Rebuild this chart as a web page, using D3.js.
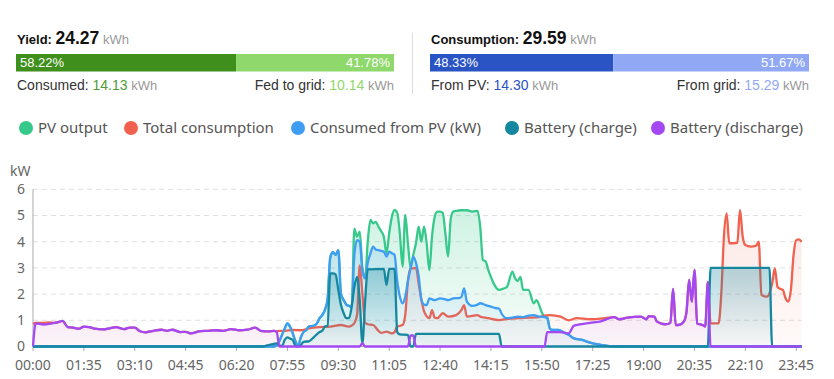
<!DOCTYPE html>
<html>
<head>
<meta charset="utf-8">
<script src="https://cdn.jsdelivr.net/npm/d3@7"></script>
<style>
  body { margin: 0; background: #fff; }
  svg { display: block; }
</style>
</head>
<body>
<div id="chart"></div>
<script>
// summary figures
const yieldTotal = "24.27", yieldConsumed = "14.13", yieldFed = "10.14";
const yieldShares = [58.22, 41.78];
const consTotal = "29.59", consFromPV = "14.30", consFromGrid = "15.29";
const consShares = [48.33, 51.67];

const seriesNames = ["PV output", "Total consumption", "Consumed from PV (kW)", "Battery (charge)", "Battery (discharge)"];
const seriesColors = ["#36c98b", "#f0614f", "#3f9ef3", "#15879f", "#a448f4"];
const yTicks = [0, 1, 2, 3, 4, 5, 6];

// 5-minute categories for the x axis
const times = [];
for (let m = 0; m < 1440; m += 5) {
  times.push(String(Math.floor(m / 60)).padStart(2, "0") + ":" + String(m % 60).padStart(2, "0"));
}

// values, [time, kW]
const pvOutput = [["00:00",0],["07:30",0],["07:35",0.05],["07:40",0.2],["07:45",0.45],["07:50",0.69],["07:55",0.88],["08:00",0.75],["08:05",0.5],["08:10",0.2],["08:15",0.02],["08:20",0.35],["08:25",0.55],["08:30",0.62],["08:35",0.76],["08:40",0.78],["08:45",0.8],["08:50",0.88],["08:55",1.08],["09:00",1.2],["09:05",1.4],["09:10",1.8],["09:15",3.4],["09:20",3.6],["09:25",3.5],["09:30",3.68],["09:35",2.0],["09:40",1.77],["09:45",1.6],["09:50",1.55],["09:55",1.52],
  ["10:00",4.5],["10:05",4.19],["10:10",4.38],["10:15",3.0],["10:20",2.6],["10:25",4.0],["10:30",4.83],["10:35",4.7],["10:40",4.76],["10:45",4.57],["10:50",4.4],["10:55",4.19],["11:00",3.56],["11:05",4.32],["11:10",4.95],["11:15",5.21],["11:20",5.1],["11:25",4.3],["11:30",3.05],["11:35",5.02],["11:40",3.94],["11:45",3.0],["11:50",3.5],["11:55",3.94],["12:00",4.57],["12:05",4.0],["12:10",4.57],["12:15",3.94],["12:20",2.92],["12:25",4.2],["12:30",4.95],["12:35",5.15],["12:40",5.15],["12:45",5.1],["12:50",4.3],["12:55",3.43],["13:00",4.89],["13:05",5.15],["13:10",5.18],["13:20",5.2],["13:30",5.2],["13:40",5.15],["13:50",5.18],["13:55",4.57],["14:00",3.3],["14:05",3.25],["14:10",2.92],["14:15",2.65],["14:20",2.41],["14:30",2.16],["14:40",2.22],["14:45",2.28],["14:55",2.86],["15:00",2.6],["15:05",2.5],["15:10",2.66],["15:15",2.16],["15:25",2.16],["15:35",1.65],["15:40",1.77],["15:45",1.58],["15:50",1.3],["15:55",1.14],
  ["16:00",1.1],["16:05",0.69],["16:10",0.63],["16:20",0.63],["16:30",0.55],["16:40",0.45],["16:50",0.31],["17:05",0.25],["17:20",0.15],["17:35",0.08],["17:50",0.03],["18:05",0],["23:55",0]];

const consumption = [["00:00",0.86],["00:05",0.9],["00:20",0.9],["00:30",0.92],["00:40",0.9],["00:50",0.95],["00:55",0.98],["01:05",0.74],["01:15",0.72],["01:25",0.68],["01:35",0.76],["01:45",0.74],["01:55",0.68],["02:10",0.65],["02:25",0.7],["02:35",0.74],["02:50",0.66],["03:00",0.72],["03:10",0.72],["03:20",0.58],["03:30",0.54],["03:45",0.6],["04:00",0.64],["04:10",0.6],["04:20",0.64],["04:35",0.55],["04:45",0.56],["04:55",0.5],["05:10",0.58],["05:25",0.6],["05:40",0.62],["05:55",0.6],["06:10",0.66],["06:25",0.62],["06:40",0.64],["06:55",0.72],["07:05",0.6],["07:20",0.58],["07:30",0.6],["07:35",0.58],["07:40",0.6],["07:50",0.6],["08:05",0.63],["08:20",0.62],["08:35",0.69],["08:55",0.74],["09:15",0.76],["09:35",0.82],["09:50",0.76],["09:55",0.8],
  ["10:00",0.9],["10:05",1.2],["10:10",3.1],["10:15",2.0],["10:20",0.9],["10:25",0.85],["10:35",0.82],["10:45",0.6],["10:50",0.52],["11:00",0.57],["11:10",0.5],["11:15",0.55],["11:20",0.76],["11:30",0.82],["11:35",1.2],["11:40",2.5],["11:45",2.98],["11:50",2.98],["11:55",3.0],["12:00",2.4],["12:05",1.8],["12:10",1.35],["12:15",1.15],["12:20",1.08],["12:25",1.39],["12:30",1.1],["12:35",1.08],["12:45",1.27],["12:55",1.14],["13:10",1.2],["13:20",1.4],["13:25",1.58],["13:30",1.14],["13:50",1.2],["13:55",1.14],["14:05",1.1],["14:10",1.08],["14:30",1.01],["14:45",1.05],["15:05",1.08],["15:25",1.1],["15:45",1.12],["15:55",1.18],
  ["16:05",1.2],["16:25",1.14],["16:40",1.0],["16:55",1.08],["17:20",1.04],["17:40",1.06],["18:05",1.12],["18:15",1.04],["18:30",1.1],["18:55",1.14],["19:05",1.04],["19:10",1.16],["19:20",1.14],["19:25",0.95],["19:40",0.85],["19:50",0.9],["19:55",2.2],["20:00",0.82],["20:05",0.82],["20:15",0.95],["20:20",1.3],["20:25",2.54],["20:30",1.71],["20:35",2.92],["20:40",0.88],["20:50",0.82],["20:55",0.76],["21:00",2.47],["21:05",0.88],["21:20",0.88],["21:25",2.0],["21:30",4.2],["21:35",5.08],["21:40",3.94],["21:55",3.96],["22:00",5.21],["22:05",4.2],["22:10",3.87],["22:20",3.81],["22:30",3.85],["22:35",4.0],["22:40",1.97],["22:50",1.9],["22:55",2.03],["23:00",2.4],["23:05",2.98],["23:10",2.28],["23:15",2.2],["23:20",2.16],["23:25",1.84],["23:30",1.71],["23:35",2.16],["23:40",3.5],["23:45",4.06],["23:50",4.09],["23:55",4.0]];

const consumedPV = [["00:00",0],["07:30",0],["07:35",0.05],["07:40",0.2],["07:45",0.45],["07:50",0.69],["07:55",0.88],["08:00",0.75],["08:05",0.5],["08:10",0.2],["08:15",0.02],["08:20",0.35],["08:25",0.55],["08:30",0.62],["08:35",0.76],["08:40",0.78],["08:45",0.8],["08:50",0.88],["08:55",1.08],["09:00",1.2],["09:05",1.4],["09:10",1.8],["09:15",3.4],["09:20",3.6],["09:25",3.5],["09:30",3.68],["09:35",2.0],["09:40",1.77],["09:45",1.6],["09:50",1.55],["09:55",1.52],
  ["10:00",3.5],["10:05",4.06],["10:10",4.0],["10:15",2.92],["10:20",2.6],["10:25",3.2],["10:30",3.55],["10:35",3.81],["10:40",3.7],["10:45",3.68],["10:50",3.65],["10:55",3.62],["11:00",3.43],["11:05",3.62],["11:10",3.56],["11:15",3.5],["11:20",2.5],["11:25",1.9],["11:30",1.65],["11:35",1.9],["11:40",2.5],["11:45",3.0],["11:50",3.43],["11:55",3.2],["12:00",2.7],["12:05",1.8],["12:10",1.6],["12:15",1.58],["12:20",1.84],["12:25",1.8],["12:30",1.77],["12:40",1.84],["12:50",1.8],["12:55",1.77],["13:05",1.84],["13:15",1.85],["13:20",1.9],["13:25",2.22],["13:30",1.71],["13:40",1.55],["13:50",1.6],["13:55",1.65],["14:05",1.58],["14:15",1.52],["14:25",1.46],["14:30",1.45],["14:35",1.25],["14:45",1.08],["14:55",1.1],["15:05",1.14],["15:15",1.12],["15:25",1.18],["15:35",1.2],["15:45",1.14],["15:50",1.14],["15:55",1.12],
  ["16:00",1.1],["16:05",0.69],["16:10",0.63],["16:20",0.63],["16:30",0.55],["16:40",0.45],["16:50",0.31],["17:05",0.25],["17:20",0.15],["17:35",0.08],["17:50",0.03],["18:05",0],["23:55",0]];

const batteryCharge = [["00:00",0],["07:10",0],["07:15",0.03],["07:25",0.08],["07:35",0.12],["07:40",0.05],["07:45",0.02],["07:50",0.25],["07:55",0.35],["08:00",0.3],["08:05",0.25],["08:10",0.02],["08:15",0],["08:20",0.05],["08:25",0.18],["08:35",0.2],["08:45",0.37],["08:55",0.55],["09:00",0.6],["09:05",0.76],["09:10",0.8],["09:15",2.79],["09:20",2.79],["09:25",2.75],["09:30",2.16],["09:35",1.58],["09:40",1.27],["09:45",1.08],["09:50",1.08],["09:55",1.52],
  ["10:00",2.28],["10:05",2.66],["10:10",1.77],["10:15",0.12],["10:20",1.7],["10:25",2.94],["10:55",2.96],["11:00",2.35],["11:05",2.96],["11:15",2.96],["11:20",0.55],["11:25",0.46],["11:40",0.44],["11:45",0],["11:50",0],["11:55",0.48],["14:30",0.48],["14:35",0],["21:00",0],["21:05",3.0],["22:55",3.0],["23:00",0],["23:55",0]];

const batteryDischarge = [["00:00",0],["00:05",0.88],["00:20",0.84],["00:30",0.86],["00:40",0.9],["00:50",0.95],["00:55",0.98],["01:05",0.74],["01:15",0.72],["01:25",0.68],["01:35",0.76],["01:45",0.74],["01:55",0.68],["02:10",0.65],["02:25",0.7],["02:35",0.74],["02:50",0.66],["03:00",0.72],["03:10",0.72],["03:20",0.58],["03:30",0.54],["03:45",0.6],["04:00",0.64],["04:10",0.6],["04:20",0.64],["04:35",0.55],["04:45",0.56],["04:55",0.5],["05:10",0.58],["05:25",0.6],["05:40",0.62],["05:55",0.6],["06:10",0.66],["06:25",0.62],["06:40",0.64],["06:55",0.72],["07:05",0.6],["07:20",0.58],["07:30",0.6],["07:35",0.56],["07:40",0],
  ["10:10",0],["10:15",0.13],["10:20",0],["11:40",0],["11:45",0.42],["11:50",0.42],["11:55",0],["15:55",0],["16:00",0.55],["16:25",0.55],["16:40",0.5],["16:50",0.8],["17:20",0.9],["17:40",0.96],["18:05",1.12],["18:15",1.04],["18:30",1.1],["18:55",1.14],["19:05",1.04],["19:10",1.16],["19:20",1.14],["19:25",0.95],["19:40",0.85],["19:50",0.9],["19:55",2.2],["20:00",0.82],["20:05",0.82],["20:15",0.95],["20:20",1.3],["20:25",2.54],["20:30",1.71],["20:35",2.92],["20:40",0.88],["20:50",0.82],["20:55",0.76],["21:00",2.47],["21:05",0],["23:55",0]];

const allSeries = [pvOutput, consumption, consumedPV, batteryCharge, batteryDischarge];

const W = 834, H = 379;
const svg = d3.select("#chart").append("svg").attr("width", W).attr("height", H)
  .style("font-family", "'Liberation Sans', Arial, sans-serif");

// ---- summary header ----
function summary(x0, x1, title, total, shares, cols, leftLabel, leftVal, rightLabel, rightVal, valCols) {
  const t = svg.append("text").attr("x", x0 + 1).attr("y", 44).attr("fill", "#111");
  t.append("tspan").attr("font-size", 13).attr("font-weight", "bold").text(title + " ");
  t.append("tspan").attr("font-size", 17.5).attr("font-weight", "bold").text(total);
  t.append("tspan").attr("font-size", 13).attr("fill", "#999").text(" kWh");

  const bx = d3.scaleLinear().domain([0, 100]).range([x0, x1]);
  svg.append("rect").attr("x", bx(0)).attr("y", 54).attr("width", bx(shares[0]) - bx(0)).attr("height", 17.5).attr("fill", cols[0]);
  svg.append("rect").attr("x", bx(shares[0])).attr("y", 54).attr("width", bx(100) - bx(shares[0])).attr("height", 17.5).attr("fill", cols[1]);
  svg.append("text").attr("x", x0 + 4).attr("y", 67).attr("font-size", 13).attr("fill", "#fff").text(shares[0].toFixed(2) + "%");
  svg.append("text").attr("x", x1 - 4).attr("y", 67).attr("text-anchor", "end").attr("font-size", 13).attr("fill", "#fff").text(shares[1].toFixed(2) + "%");

  const l = svg.append("text").attr("x", x0 + 1).attr("y", 90).attr("font-size", 14).attr("fill", "#333");
  l.append("tspan").text(leftLabel + " ");
  l.append("tspan").attr("fill", valCols[0]).text(leftVal);
  l.append("tspan").attr("fill", "#999").attr("font-size", 13).text(" kWh");
  const r = svg.append("text").attr("x", x1).attr("y", 90).attr("font-size", 14).attr("fill", "#333").attr("text-anchor", "end");
  r.append("tspan").text(rightLabel + " ");
  r.append("tspan").attr("fill", valCols[1]).text(rightVal);
  r.append("tspan").attr("fill", "#999").attr("font-size", 13).text(" kWh");
}
summary(16, 394, "Yield:", yieldTotal, yieldShares, ["#3f8f1d", "#8fd86c"], "Consumed:", yieldConsumed, "Fed to grid:", yieldFed, ["#4f9b38", "#8fd86c"]);
summary(430, 809, "Consumption:", consTotal, consShares, ["#2a53c3", "#91a9f5"], "From PV:", consFromPV, "From grid:", consFromGrid, ["#2a53c3", "#91a9f5"]);
svg.append("line").attr("x1", 412.5).attr("x2", 412.5).attr("y1", 33).attr("y2", 94).attr("stroke", "#ddd");

// ---- legend ----
const legendX = [26, 131, 298, 512, 658];
const lg = svg.append("g").style("font-family", "'Noto Sans', sans-serif");
seriesNames.forEach((n, i) => {
  lg.append("circle").attr("cx", legendX[i]).attr("cy", 128).attr("r", 7).attr("fill", seriesColors[i]);
  lg.append("text").attr("x", legendX[i] + 12).attr("y", 133).attr("font-size", 15).attr("fill", "#555").text(n);
});

// ---- chart ----
const x = d3.scalePoint().domain(times).range([33, 801.6]);
const y = d3.scaleLinear().domain([0, 6]).range([346.5, 189.3]);
const g = svg.append("g").style("font-family", "'Noto Sans', sans-serif");

g.selectAll(".grid").data(yTicks.slice(1)).join("line")
  .attr("x1", 33).attr("x2", 801.6).attr("y1", d => y(d)).attr("y2", d => y(d))
  .attr("stroke", "#e0e0e0").attr("stroke-dasharray", "5,4");

g.selectAll(".ylab").data(yTicks).join("text")
  .attr("x", 25).attr("y", d => y(d)).attr("dy", "0.35em").attr("text-anchor", "end")
  .attr("font-size", 14).attr("fill", "#666").text(d => d);
g.append("text").attr("x", 10).attr("y", 176).attr("font-size", 14).attr("fill", "#666").text("kW");

g.append("line").attr("x1", 33).attr("x2", 33).attr("y1", 189.3).attr("y2", 346.5).attr("stroke", "#aaa");
g.append("line").attr("x1", 33).attr("x2", 801.6).attr("y1", 346.5).attr("y2", 346.5).attr("stroke", "#aaa");

const xTicks = times.filter((d, i) => i % 19 === 0);
g.selectAll(".xtick").data(xTicks).join("line")
  .attr("x1", d => x(d)).attr("x2", d => x(d)).attr("y1", 346.5).attr("y2", 351).attr("stroke", "#aaa");
g.selectAll(".xlab").data(xTicks).join("text")
  .attr("x", d => x(d)).attr("y", 370).attr("text-anchor", "middle")
  .attr("font-size", 14).attr("fill", "#666").text(d => d);

// gradients
const defs = svg.append("defs");
const topOp = [0.24, 0.15, 0.2, 0.32, 0.14];
seriesColors.forEach((c, i) => {
  const gr = defs.append("linearGradient").attr("id", "grad" + i).attr("x1", 0).attr("x2", 0).attr("y1", 0).attr("y2", 1);
  gr.append("stop").attr("offset", "0%").attr("stop-color", c).attr("stop-opacity", topOp[i]);
  gr.append("stop").attr("offset", "100%").attr("stop-color", c).attr("stop-opacity", 0.03);
});

const area = d3.area().curve(d3.curveMonotoneX)
  .x(d => x(d[0])).y0(y(0)).y1(d => y(d[1]));
const line = d3.line().curve(d3.curveMonotoneX)
  .x(d => x(d[0])).y(d => y(d[1]));

allSeries.forEach((s, i) => {
  g.append("path").datum(s).attr("d", area).attr("fill", "url(#grad" + i + ")");
  g.append("path").datum(s).attr("d", line).attr("fill", "none")
    .attr("stroke", seriesColors[i]).attr("stroke-width", 2.3).attr("stroke-linejoin", "round");
});
</script>
</body>
</html>
